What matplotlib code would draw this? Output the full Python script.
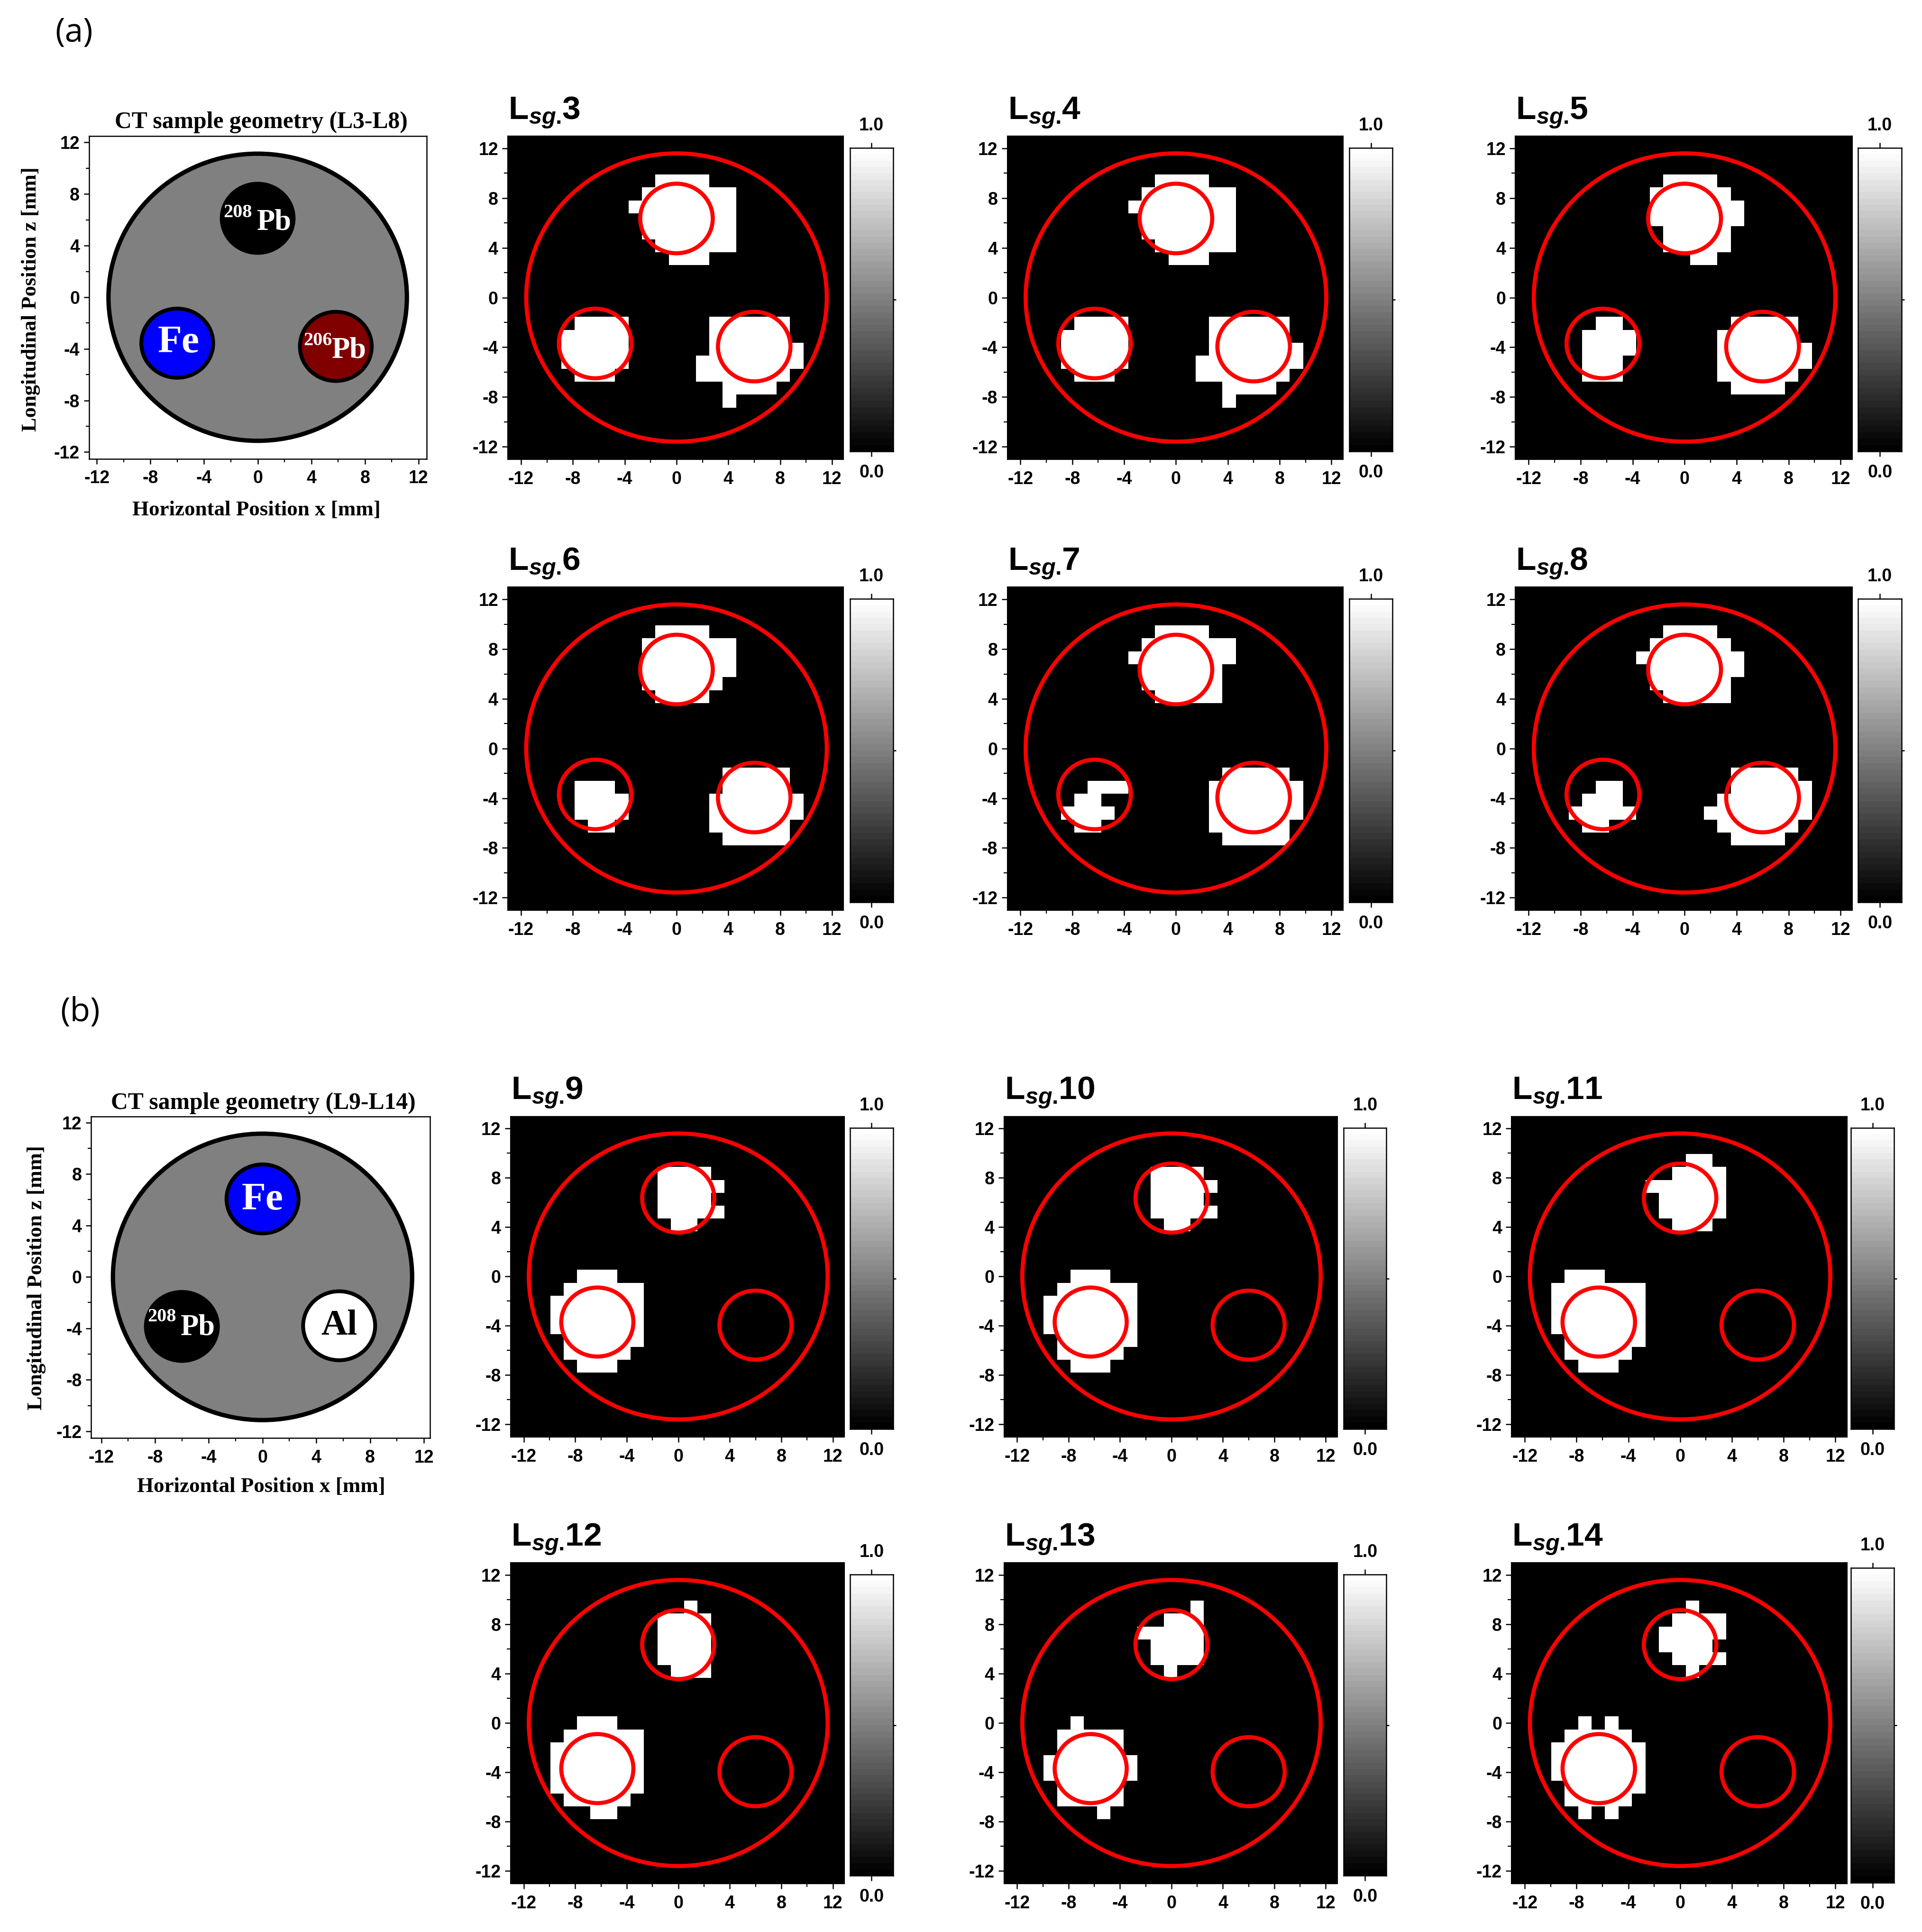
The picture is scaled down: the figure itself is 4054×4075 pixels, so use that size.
import numpy as np
import matplotlib
matplotlib.use('Agg')
import matplotlib.pyplot as plt
from matplotlib.patches import Circle

W, H = 4054, 4075
plt.rcParams['font.family'] = ['Liberation Sans', 'DejaVu Sans']
plt.rcParams['mathtext.fontset'] = 'custom'
plt.rcParams['mathtext.it'] = 'Liberation Sans:italic:bold'
plt.rcParams['mathtext.rm'] = 'Liberation Sans:bold'
plt.rcParams['mathtext.bf'] = 'Liberation Sans:bold'

major_ticks = [-12, -8, -4, 0, 4, 8, 12]
minor_ticks = [-10, -6, -2, 2, 6, 10]
tick_labels = ['-12', '-8', '-4', '0', '4', '8', '12']
cbar_levels = np.linspace(0, 1, 48)

# reconstructed maps: row -> white runs (start col, end col) on the 25x25 grid
lsg3 = {3: [(11, 15)], 4: [(10, 17)], 5: [(9, 17)], 6: [(10, 17)], 7: [(10, 17)], 8: [(11, 17)], 9: [(12, 15)],
        14: [(5, 9), (15, 21)], 15: [(4, 9), (15, 21)], 16: [(4, 9), (15, 22)], 17: [(4, 9), (14, 22)],
        18: [(5, 8), (14, 21)], 19: [(16, 20)], 20: [(16, 17)]}
lsg4 = dict(lsg3)
lsg5 = {3: [(11, 15)], 4: [(10, 16)], 5: [(10, 17)], 6: [(10, 17)], 7: [(11, 16)], 8: [(11, 16)], 9: [(13, 15)],
        14: [(6, 8), (16, 21)], 15: [(5, 9), (15, 21)], 16: [(5, 9), (15, 22)], 17: [(5, 8), (15, 22)],
        18: [(5, 8), (15, 21)], 19: [(16, 20)]}
lsg6 = {3: [(11, 15)], 4: [(10, 17)], 5: [(10, 17)], 6: [(10, 17)], 7: [(10, 16)], 8: [(11, 15)],
        14: [(16, 21)], 15: [(5, 8), (16, 21)], 16: [(5, 9), (15, 22)], 17: [(5, 9), (15, 22)],
        18: [(6, 8), (15, 21)], 19: [(16, 21)]}
lsg7 = {3: [(11, 15)], 4: [(10, 17)], 5: [(9, 17)], 6: [(10, 16)], 7: [(10, 16)], 8: [(11, 16)],
        14: [(16, 21)], 15: [(6, 9), (15, 22)], 16: [(5, 7), (15, 22)], 17: [(4, 8), (15, 22)],
        18: [(5, 7), (15, 21)], 19: [(16, 21)]}
lsg8 = {3: [(11, 15)], 4: [(10, 16)], 5: [(9, 17)], 6: [(10, 17)], 7: [(10, 16)], 8: [(11, 16)],
        14: [(16, 21)], 15: [(6, 8), (16, 22)], 16: [(5, 8), (15, 22)], 17: [(4, 9), (14, 22)],
        18: [(5, 7), (15, 21)], 19: [(16, 20)]}
lsg9 = {4: [(11, 15)], 5: [(11, 16)], 6: [(11, 15)], 7: [(11, 16)], 8: [(12, 14)],
        12: [(5, 8)], 13: [(4, 10)], 14: [(3, 10)], 15: [(3, 10)], 16: [(3, 10)],
        17: [(4, 10)], 18: [(4, 9)], 19: [(5, 8)]}
lsg10 = dict(lsg9)
lsg11 = {3: [(13, 15)], 4: [(12, 16)], 5: [(10, 16)], 6: [(11, 16)], 7: [(11, 16)], 8: [(12, 15)],
         12: [(4, 7)], 13: [(3, 10)], 14: [(3, 10)], 15: [(3, 10)], 16: [(3, 10)],
         17: [(4, 10)], 18: [(4, 9)], 19: [(5, 8)]}
lsg12 = {3: [(13, 14)], 4: [(11, 15)], 5: [(11, 15)], 6: [(11, 15)], 7: [(11, 15)], 8: [(12, 15)],
         12: [(5, 8)], 13: [(4, 10)], 14: [(3, 10)], 15: [(3, 10)], 16: [(3, 10)], 17: [(3, 10)],
         18: [(4, 9)], 19: [(6, 8)]}
lsg13 = {3: [(14, 15)], 4: [(12, 15)], 5: [(10, 15)], 6: [(11, 15)], 7: [(11, 15)], 8: [(12, 13)],
         12: [(5, 6)], 13: [(4, 9)], 14: [(4, 9)], 15: [(3, 10)], 16: [(3, 10)], 17: [(4, 9)],
         18: [(4, 9)], 19: [(7, 8)]}
lsg14 = {3: [(13, 14)], 4: [(12, 16)], 5: [(11, 16)], 6: [(11, 15)], 7: [(12, 16)], 8: [(13, 14)],
         12: [(5, 6), (7, 8)], 13: [(4, 9)], 14: [(3, 10)], 15: [(3, 10)], 16: [(3, 10)], 17: [(4, 10)],
         18: [(4, 9)], 19: [(5, 6), (7, 8)]}

# reference circles in mm
outer_radius = 11.6
rod_radius = 2.8
rod_x = [0, -6.28, 6.0]
rod_z = [6.36, -3.7, -3.95]

geo_outer_radius = 11.13
geo_rod_radius = 2.68
geo_a_x = [0, -6.0, 5.83]
geo_a_z = [6.12, -3.56, -3.81]
geo_a_colors = ['black', '#0000ff', '#800000']
geo_b_x = [0, -6.0, 5.7]
geo_b_z = [6.06, -3.85, -3.8]
geo_b_colors = ['#0000ff', 'black', 'white']


def make_axes(x0, y0, x1, y1):
    return plt.gcf().add_axes([x0 / W, 1 - y1 / H, (x1 - x0) / W, (y1 - y0) / H])


def ftext(x, y, s, **kw):
    return plt.gcf().text(x / W, 1 - y / H, s, **kw)


def style_ticks(ax):
    ax.set_xticks(major_ticks)
    ax.set_xticklabels(tick_labels, fontsize=27, fontweight='bold')
    ax.set_yticks(major_ticks)
    ax.set_yticklabels(tick_labels, fontsize=27, fontweight='bold')
    ax.set_xticks(minor_ticks, minor=True)
    ax.set_yticks(minor_ticks, minor=True)
    ax.tick_params(axis='both', which='major', length=8, width=1.8, direction='out')
    ax.tick_params(axis='both', which='minor', length=5, width=1.6, direction='out')
    ax.tick_params(axis='x', which='major', pad=9)
    ax.tick_params(axis='y', which='major', pad=6)


def lsg_panel(number, runs, box, cbar_x, cbar_y):
    x0, y0, x1, y1 = box
    ax = make_axes(x0, y0, x1, y1)
    grid = np.zeros((25, 25))
    for row, spans in runs.items():
        for a, b in spans:
            grid[row, a:b] = 1
    ax.imshow(grid, cmap='gray', vmin=0, vmax=1, interpolation='nearest', aspect='auto',
              extent=[-13.05, 12.9, -13.03, 13.03])
    ax.add_patch(Circle((0, 0), outer_radius, fill=False, ec='#ff0000', lw=6.2))
    for cx, cz in zip(rod_x, rod_z):
        ax.add_patch(Circle((cx, cz), rod_radius, fill=False, ec='#ff0000', lw=6.2))
    ax.set_xlim(-13.05, 12.9)
    ax.set_ylim(-13.03, 13.03)
    style_ticks(ax)
    ftext(x0 + 2, y0 - 35, 'L$_{\\mathit{sg.}}\\!$' + str(number), fontsize=50, fontweight='bold',
          ha='left', va='baseline')

    cax = make_axes(cbar_x[0], cbar_y[0], cbar_x[1], cbar_y[1])
    cax.imshow(cbar_levels[:, None], cmap='gray', vmin=0, vmax=1, origin='lower', aspect='auto',
               interpolation='nearest', extent=[0, 1, 0, 1])
    cax.set_xticks([0.5])
    cax.set_xticklabels([])
    cax.set_yticks([0.5])
    cax.set_yticklabels([])
    cax.tick_params(axis='x', top=True, bottom=True, length=8, width=1.8)
    cax.tick_params(axis='y', left=False, right=True, length=4, width=1.8)
    for sp in cax.spines.values():
        sp.set_linewidth(1.8)
    xc = (cbar_x[0] + cbar_x[1]) / 2
    ftext(xc, cbar_y[0] - 47, '1.0', fontsize=27, fontweight='bold', ha='center', va='center')
    ftext(xc, cbar_y[1] + 45, '0.0', fontsize=27, fontweight='bold', ha='center', va='center')


def geometry_panel(box, xlim, title, title_xy, xlabel_xy, ylabel_xy, rod_xs, rod_zs, colors):
    ax = make_axes(*box)
    ax.add_patch(Circle((0, 0), geo_outer_radius, fc='#808080', ec='black', lw=6.6))
    for cx, cz, c in zip(rod_xs, rod_zs, colors):
        ax.add_patch(Circle((cx, cz), geo_rod_radius, fc=c, ec='black', lw=5.8))
    ax.set_xlim(*xlim)
    ax.set_ylim(-12.52, 12.48)
    style_ticks(ax)
    for sp in ax.spines.values():
        sp.set_linewidth(1.8)
    ftext(title_xy[0], title_xy[1], title, family='Liberation Serif', fontsize=35.7, fontweight='bold',
          ha='center', va='baseline')
    ftext(xlabel_xy[0], xlabel_xy[1], 'Horizontal Position x [mm]', family='Liberation Serif', fontsize=32.4,
          fontweight='bold', ha='center', va='baseline')
    ftext(ylabel_xy[0], ylabel_xy[1], 'Longitudinal Position z [mm]', family='Liberation Serif', fontsize=32,
          fontweight='bold', ha='center', va='center', rotation=90)
    return ax


def rod_label(ax, mass, mass_xy, pb_xy, color='white'):
    ax.text(mass_xy[0], mass_xy[1], mass, family='Liberation Serif', fontsize=29, fontweight='bold',
            color=color, ha='center', va='center')
    ax.text(pb_xy[0], pb_xy[1], 'Pb', family='Liberation Serif', fontsize=45, fontweight='bold',
            color=color, ha='center', va='baseline')


fig = plt.figure(figsize=(W / 100, H / 100), dpi=100)

ftext(156, 70, '(a)', family='Open Sans', fontsize=50, ha='center', va='center')
ftext(169, 2136, '(b)', family='Open Sans', fontsize=50, ha='center', va='center')

ax_a = geometry_panel((187.5, 287.4, 899.5, 967.6), (-12.59, 12.59), 'CT sample geometry (L3-L8)', (551, 270),
                      (541, 1087), (65, 631), geo_a_x, geo_a_z, geo_a_colors)
rod_label(ax_a, '208', (-1.47, 6.55), (1.23, 5.24))
rod_label(ax_a, '206', (4.48, -3.38), (6.82, -4.68))
ax_a.text(-5.89, -4.25, 'Fe', family='Liberation Serif', fontsize=60, fontweight='bold', color='white',
          ha='center', va='baseline')

ax_b = geometry_panel((192, 2354.5, 907, 3033), (-12.76, 12.46), 'CT sample geometry (L9-L14)', (555, 2339),
                      (551, 3147), (77, 2695), geo_b_x, geo_b_z, geo_b_colors)
rod_label(ax_b, '208', (-7.5, -3.1), (-4.8, -4.5))
ax_b.text(0, 5.25, 'Fe', family='Liberation Serif', fontsize=60, fontweight='bold', color='white',
          ha='center', va='baseline')
ax_b.text(5.7, -4.5, 'Al', family='Liberation Serif', fontsize=55, fontweight='bold', color='black',
          ha='center', va='baseline')

ax1x, ax2x, ax3x = (1070.3, 1779.4), (2123.7, 2832.9), (3195.4, 3906.9)
bx1x, bx2x, bx3x = (1076, 1781), (2116.9, 2820.9), (3187.4, 3896)
c1x, c2x, c3x = (1792.7, 1883.6), (2846, 2937), (3919.4, 4010.9)
d1x, d2x, d3x = (1793.3, 1883.6), (2834, 2924.4), (3904.3, 3995)

lsg_panel(3, lsg3, (ax1x[0], 286, ax1x[1], 969), c1x, (312, 952))
lsg_panel(4, lsg4, (ax2x[0], 286, ax2x[1], 969), c2x, (312, 952))
lsg_panel(5, lsg5, (ax3x[0], 286, ax3x[1], 969), c3x, (312, 952))
lsg_panel(6, lsg6, (ax1x[0], 1237.5, ax1x[1], 1920), c1x, (1263, 1903))
lsg_panel(7, lsg7, (ax2x[0], 1237.5, ax2x[1], 1920), c2x, (1263, 1903))
lsg_panel(8, lsg8, (ax3x[0], 1237.5, ax3x[1], 1920), c3x, (1263, 1903))
lsg_panel(9, lsg9, (bx1x[0], 2353.6, bx1x[1], 3031), d1x, (2379, 3014))
lsg_panel(10, lsg10, (bx2x[0], 2353.6, bx2x[1], 3031), d2x, (2379, 3014))
lsg_panel(11, lsg11, (bx3x[0], 2353.6, bx3x[1], 3031), d3x, (2379, 3014))
lsg_panel(12, lsg12, (bx1x[0], 3295.3, bx1x[1], 3973), d1x, (3321, 3956))
lsg_panel(13, lsg13, (bx2x[0], 3295.3, bx2x[1], 3973), d2x, (3321, 3956))
lsg_panel(14, lsg14, (bx3x[0], 3295.3, bx3x[1], 3973), d3x, (3307, 3970.6))

plt.savefig('out.png', dpi=100)
